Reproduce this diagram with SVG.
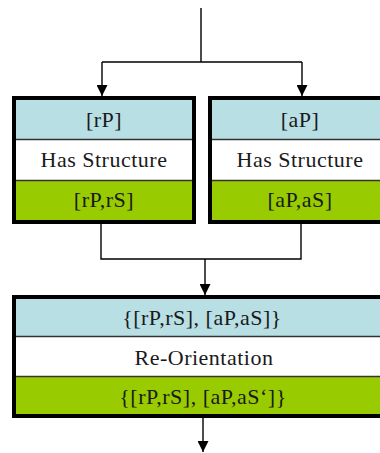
<svg xmlns="http://www.w3.org/2000/svg" width="380" height="453" viewBox="0 0 380 453">
<style>
.cy{fill:#B8DFE3}
.wh{fill:#FFFFFF}
.gr{fill:#99CC00}
.div{stroke:#333333;stroke-width:1.5}
.frame{fill:none;stroke:#000000;stroke-width:4}
.t{font-size:22px;fill:#1a1a1a;text-anchor:middle;letter-spacing:0.5px}
.c{fill:none;stroke:#000000;stroke-width:1.4}
</style>
<defs>
<marker id="ah" markerUnits="userSpaceOnUse" markerWidth="11" markerHeight="11" viewBox="0 0 10 10" refX="10" refY="5" orient="auto">
<path d="M0,0 L10,5 L0,10 z" fill="#000000"/>
</marker>
</defs>
<rect width="380" height="453" fill="#FFFFFF"/>
<g id="connectors">
<path class="c" d="M201,8 V62 M102,62 H302"/>
<path class="c" d="M102,62 V96" marker-end="url(#ah)"/>
<path class="c" d="M302,62 V96" marker-end="url(#ah)"/>
<path class="c" d="M101,224 V259 H301 V224"/>
<path class="c" d="M205,259 V295" marker-end="url(#ah)"/>
<path class="c" d="M203,418 V452" marker-end="url(#ah)"/>
</g>
<g font-family="Liberation Serif, serif">
<g id="node-rP">
<rect class="cy" x="14" y="98" width="180" height="42"/>
<rect class="wh" x="14" y="140" width="180" height="40.5"/>
<rect class="gr" x="14" y="180.5" width="180" height="41.5"/>
<line class="div" x1="14" y1="139.5" x2="194" y2="139.5"/>
<line class="div" x1="14" y1="180.5" x2="194" y2="180.5"/>
<rect class="frame" x="14" y="98" width="180" height="124"/>
<text class="t" x="104" y="127">[rP]</text>
<text class="t" x="104" y="167">Has Structure</text>
<text class="t" x="104" y="207">[rP,rS]</text>
</g>
<g id="node-aP">
<rect class="cy" x="210" y="98" width="180" height="42"/>
<rect class="wh" x="210" y="140" width="180" height="40.5"/>
<rect class="gr" x="210" y="180.5" width="180" height="41.5"/>
<line class="div" x1="210" y1="139.5" x2="390" y2="139.5"/>
<line class="div" x1="210" y1="180.5" x2="390" y2="180.5"/>
<rect class="frame" x="210" y="98" width="180" height="124"/>
<text class="t" x="300" y="127">[aP]</text>
<text class="t" x="300" y="167">Has Structure</text>
<text class="t" x="300" y="207">[aP,aS]</text>
</g>
<g id="node-reorientation">
<rect class="cy" x="14" y="297" width="380" height="39.5"/>
<rect class="wh" x="14" y="336.5" width="380" height="40"/>
<rect class="gr" x="14" y="376.5" width="380" height="39.5"/>
<line class="div" x1="14" y1="336.5" x2="394" y2="336.5"/>
<line class="div" x1="14" y1="376.5" x2="394" y2="376.5"/>
<rect class="frame" x="14" y="297" width="380" height="119"/>
<text class="t" x="202" y="325">{[rP,rS], [aP,aS]}</text>
<text class="t" x="204" y="365">Re-Orientation</text>
<text class="t" x="203" y="404">{[rP,rS], [aP,aS‘]}</text>
</g>
</g>
</svg>
